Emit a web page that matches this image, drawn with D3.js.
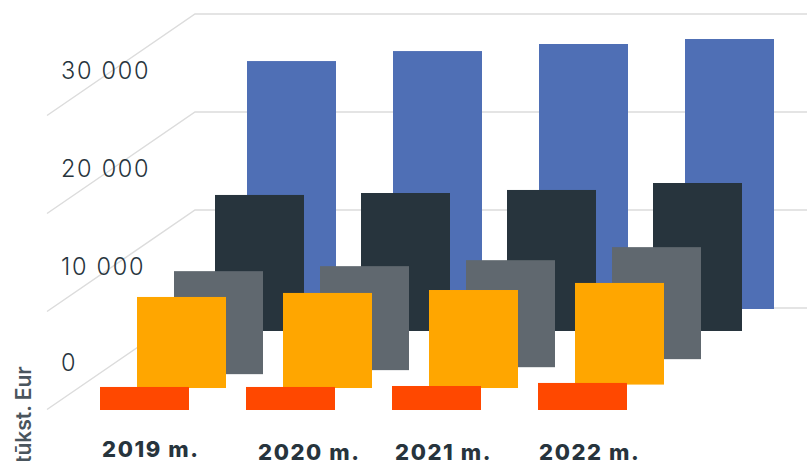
<!DOCTYPE html>
<html><head><meta charset="utf-8">
<script src="https://cdn.jsdelivr.net/npm/d3@7/dist/d3.min.js"></script>
<style>html,body{margin:0;padding:0;background:#fff;overflow:hidden}svg{display:block}text{font-family:Inter,sans-serif}</style>
</head><body><svg id="c" width="807" height="461"></svg>
<script>
const categories = ["2019 m.","2020 m.","2021 m.","2022 m."];
const tickValues = [0,10000,20000,30000];
const tickLabels = ["0","10 000","20 000","30 000"];
const axisTitle = "tūkst. Eur";
const blueHigh = [25300,26320,27040,27550];
const darkHigh = [13880,14080,14390,15100];
const greyLow = [-1530,-1120,-820,0];
const greyHigh = [8980,9490,10100,11430];
const orangeLow = [-350,-350,-350,0];
const orangeHigh = [8940,9350,9650,10370];
const redHigh = [2350,2350,2450,2760];
const zeros = [0,0,0,0];

const layers = [
 {name:"blue",low:zeros,high:blueHigh,color:"#4f6fb5"},
 {name:"dark",low:zeros,high:darkHigh,color:"#27343d"},
 {name:"grey",low:greyLow,high:greyHigh,color:"#60686f"},
 {name:"orange",low:orangeLow,high:orangeHigh,color:"#ffa600"},
 {name:"red",low:zeros,high:redHigh,color:"#ff4800"}
];
const svg = d3.select("#c");
// back-wall scale: value to pixel height
const y = d3.scaleLinear().domain([0,30000]).range([308,14]);
const h = v => y(0)-y(v);
// category position within one depth layer
const xBand = d3.scaleBand().domain(categories).range([0,527]).paddingInner(57/146).paddingOuter(0).align(0);
// depth of each layer: horizontal shift and floor line
const depthX = d3.scaleOrdinal().domain(layers.map(d=>d.name)).range([247,215,174,137,100]);
const floorY = d3.scaleLinear().domain([247,100]).range([309,410]);

const grid = svg.append("g");
tickValues.forEach(t=>{
  grid.append("path").attr("d",`M47,${y(t)+101.5}L195,${y(t)}H807`)
    .attr("fill","none").attr("stroke","#dcdcdc").attr("stroke-width",1.5);
});
svg.append("g").selectAll("text").data(tickValues).join("text")
  .attr("x",61).attr("y",t=>y(t)+ (t===0?63:64.5))
  .attr("font-size",23.5).attr("font-weight",300).attr("letter-spacing",1.7).attr("fill","#27343d")
  .text((t,i)=>tickLabels[i]);

layers.forEach(l=>{
  const x0=depthX(l.name), base=floorY(x0);
  svg.append("g").selectAll("rect").data(categories).join("rect")
    .attr("x",c=>x0+xBand(c)).attr("width",xBand.bandwidth())
    .attr("y",(c,i)=>base-h(l.high[i]))
    .attr("height",(c,i)=>h(l.high[i])-h(l.low[i]))
    .attr("fill",l.color);
});
const labelX = d3.scaleOrdinal().domain(categories).range([102,258,395,539]);
const labelY = d3.scaleOrdinal().domain(categories).range([457,460,460,460]);
svg.append("g").selectAll("text").data(categories).join("text")
  .attr("x",c=>labelX(c)).attr("y",c=>labelY(c))
  .attr("font-size",22).attr("font-weight",800).attr("letter-spacing",1.6).attr("fill","#27343d").text(c=>c);
svg.append("text").attr("transform","translate(31,463) rotate(-90)")
  .attr("font-size",21).attr("font-weight",600).attr("fill","#4a555d").text(axisTitle);
</script></body></html>
